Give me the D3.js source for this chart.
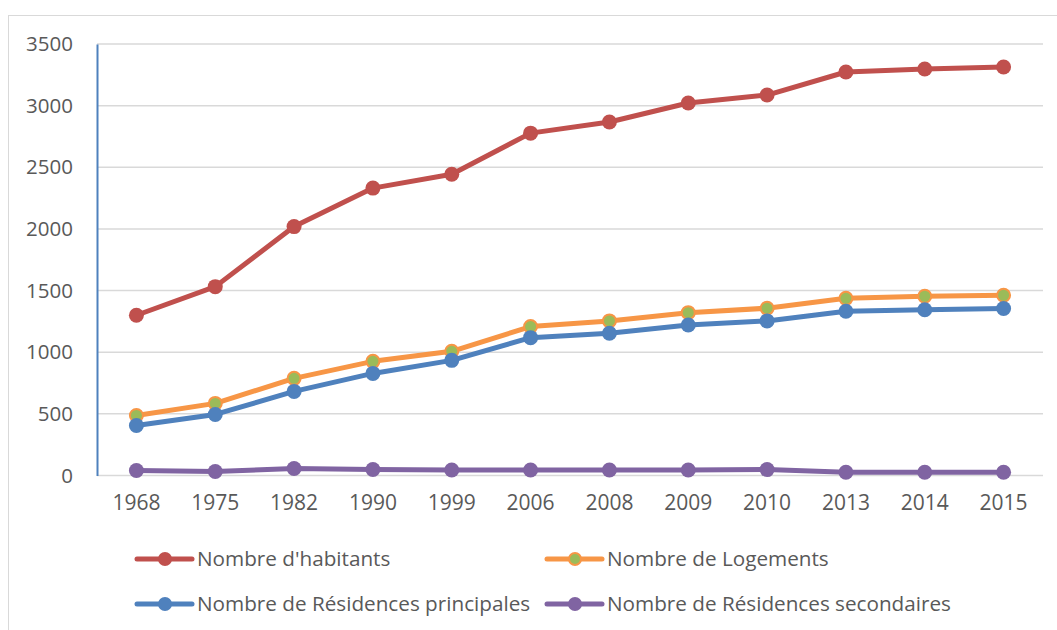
<!DOCTYPE html>
<html><head><meta charset="utf-8">
<script src="https://cdn.jsdelivr.net/npm/d3@7"></script>
<style>body{margin:0;background:#fff}svg{display:block}text{font-family:"Open Sans",sans-serif;fill:#595959}</style>
</head><body>
<svg id="c" width="1057" height="630"></svg>
<script>
const years = ["1968","1975","1982","1990","1999","2006","2008","2009","2010","2013","2014","2015"];
const habitants = [1300,1532,2019,2331,2444,2777,2867,3021,3086,3273,3297,3313];
const logements = [487,585,788,926,1007,1208,1254,1321,1357,1437,1454,1462];
const principales = [406,495,682,828,934,1118,1154,1221,1254,1332,1345,1354];
const secondaires = [41,33,57,49,45,45,45,45,48,26,26,26];
const yTicks = [0,500,1000,1500,2000,2500,3000,3500];
const seriesNames = ["Nombre d'habitants","Nombre de Logements","Nombre de Résidences principales","Nombre de Résidences secondaires"];

const series = [
  {name:seriesNames[0], values:habitants, stroke:"#c0504d", fill:"#c0504d"},
  {name:seriesNames[1], values:logements, stroke:"#f79646", fill:"#9bbb59"},
  {name:seriesNames[2], values:principales, stroke:"#4f81bd", fill:"#4f81bd"},
  {name:seriesNames[3], values:secondaires, stroke:"#8064a2", fill:"#8064a2"}
];

const svg = d3.select("#c");
const L=97, R=1043, T=44, B=475.5;
// frame
svg.append("rect").attr("x",8.5).attr("y",15.5).attr("width",1100).attr("height",700)
  .attr("fill","none").attr("stroke","#d9d9d9").attr("stroke-width",1);

const x = d3.scaleBand().domain(years).range([L,R]);
const y = d3.scaleLinear().domain([0,3500]).range([B,T]);

// gridlines
svg.append("g").selectAll("line").data(yTicks).join("line")
  .attr("x1",L).attr("x2",R).attr("y1",d=>y(d)).attr("y2",d=>y(d))
  .attr("stroke","#d9d9d9").attr("stroke-width",1.5);

// y axis
const ya = svg.append("g").attr("transform",`translate(${L},0)`)
  .call(d3.axisLeft(y).tickValues(yTicks).tickSize(0).tickPadding(24).tickFormat(d3.format("d")));
ya.select(".domain").attr("stroke","#4f81bd").attr("stroke-width",2);
ya.selectAll("text").attr("font-size",20.5).style("fill","#595959");

// x axis
const xa = svg.append("g").attr("transform",`translate(0,${B})`)
  .call(d3.axisBottom(x).tickSize(0).tickPadding(20));
xa.select(".domain").remove();
xa.selectAll("text").attr("font-size",21).style("fill","#595959");

const line = d3.line().x((d,i)=>x(years[i])+x.bandwidth()/2).y(d=>y(d));
series.forEach(s=>{
  const g = svg.append("g");
  g.append("path").attr("d",line(s.values)).attr("fill","none")
    .attr("stroke",s.stroke).attr("stroke-width",5).attr("stroke-linejoin","round");
  g.selectAll("circle").data(s.values).join("circle")
    .attr("cx",(d,i)=>x(years[i])+x.bandwidth()/2).attr("cy",d=>y(d))
    .attr("r", s.fill===s.stroke?7.5:6.5)
    .attr("fill",s.fill).attr("stroke",s.stroke).attr("stroke-width",s.fill===s.stroke?0:2);
});

// legend
const legPos = [[137,559],[547,559],[137,604],[547,604]];
series.forEach((s,i)=>{
  const [lx,ly]=legPos[i];
  const g = svg.append("g").attr("transform",`translate(${lx},${ly})`);
  g.append("line").attr("x1",0).attr("x2",55).attr("y1",0).attr("y2",0)
    .attr("stroke",s.stroke).attr("stroke-width",5).attr("stroke-linecap","round");
  g.append("circle").attr("cx",28).attr("cy",0).attr("r",s.fill===s.stroke?7:6)
    .attr("fill",s.fill).attr("stroke",s.stroke).attr("stroke-width",s.fill===s.stroke?0:2);
  g.append("text").attr("x",60).attr("y",0).attr("dy","0.35em").attr("font-size",20.7).text(s.name);
});
</script>
</body></html>
